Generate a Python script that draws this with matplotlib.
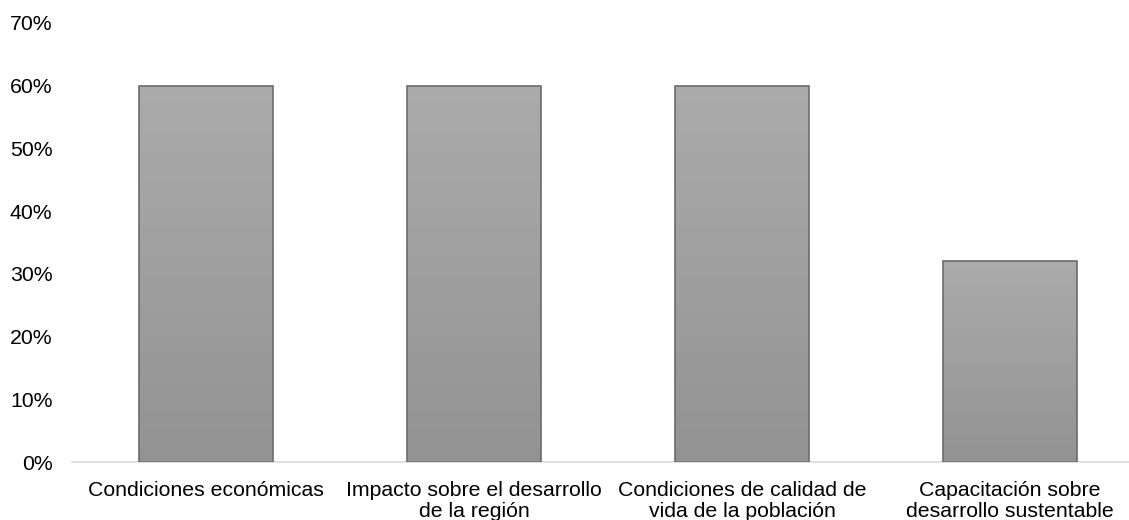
import numpy as np
import matplotlib.pyplot as plt

plt.rcParams['font.family'] = ['Liberation Sans', 'DejaVu Sans']

categories = ["Condiciones económicas",
              "Impacto sobre el desarrollo\nde la región",
              "Condiciones de calidad de\nvida de la población",
              "Capacitación sobre\ndesarrollo sustentable"]
values = [0.60, 0.60, 0.60, 0.32]
yticks = [0.0, 0.1, 0.2, 0.3, 0.4, 0.5, 0.6, 0.7]

W, H = 1129, 520
fig = plt.figure(figsize=(W / 100, H / 100), dpi=100)
# plot area: left 72px, bottom 462px, top (70%) 23px; right edge runs past the image
left, right, top, bottom = 72, 1144, 23, 462
ax = fig.add_axes([left / W, 1 - bottom / H, (right - left) / W, (bottom - top) / H])

x = np.arange(len(categories))
bars = ax.bar(x, values, width=0.5, facecolor='none', edgecolor='#6b6b6b',
              linewidth=1.2, zorder=3)

# vertical grey gradient inside each bar
grad = np.linspace(0, 1, 256).reshape(-1, 1)
cmap = plt.matplotlib.colors.LinearSegmentedColormap.from_list('g', ['#939393', '#ababab'])
for b in bars:
    x0, y0 = b.get_x(), b.get_y()
    w, h = b.get_width(), b.get_height()
    im = ax.imshow(grad, extent=[x0, x0 + w, y0, y0 + h], origin='lower',
                   cmap=cmap, aspect='auto', zorder=2)
    im.set_clip_path(b)

ax.set_xlim(-0.5, len(categories) - 0.5)
ax.set_ylim(0, 0.7)
ax.set_yticks(yticks)
ax.set_yticklabels([f"{int(round(t * 100))}%" for t in yticks])
ax.set_xticks(x)
ax.set_xticklabels(categories, linespacing=1.1)

for s in ['top', 'right', 'left']:
    ax.spines[s].set_visible(False)
ax.spines['bottom'].set_color('#d9d9d9')
ax.spines['bottom'].set_linewidth(1.2)
ax.tick_params(axis='both', length=0, labelsize=15.3, colors='#000000')
ax.tick_params(axis='y', pad=14)
ax.tick_params(axis='x', pad=14)

fig.savefig('out.png', dpi=100)
